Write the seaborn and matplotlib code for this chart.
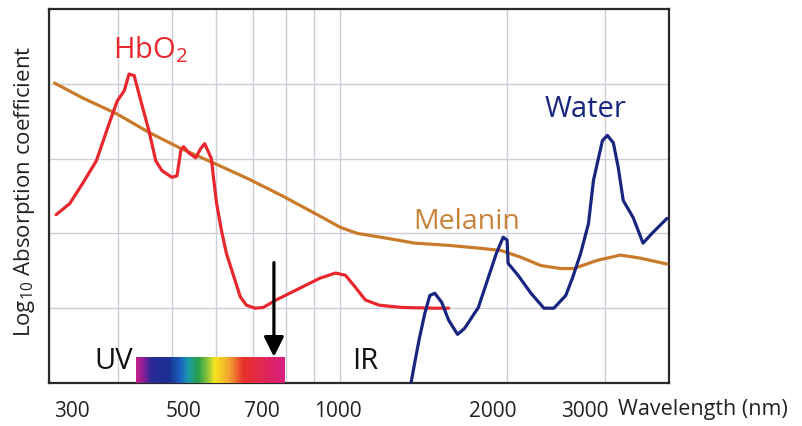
import numpy as np
import pandas as pd
import matplotlib
matplotlib.use("Agg")
import matplotlib.pyplot as plt
from matplotlib.colors import LinearSegmentedColormap
from matplotlib.transforms import ScaledTranslation
import seaborn as sns

# ---- data ----
hbo2_wl = [309, 327, 345, 365, 385, 398, 410, 418, 427, 439, 454, 467, 479, 499, 510,
           518, 524, 535, 551, 562, 572, 588, 593, 601, 613, 626, 663, 680, 705, 729,
           769, 834, 921, 984, 1025, 1068, 1113, 1179, 1296, 1484, 1572]
hbo2_val = [2.25, 2.40, 2.67, 2.97, 3.47, 3.77, 3.91, 4.13, 4.11, 3.77, 3.37, 2.97, 2.84, 2.75, 2.77,
            3.11, 3.16, 3.08, 3.01, 3.13, 3.20, 3.00, 2.75, 2.40, 2.04, 1.73, 1.15, 1.04, 1.00, 1.01,
            1.11, 1.24, 1.40, 1.47, 1.44, 1.28, 1.11, 1.04, 1.01, 1.00, 1.00]

melanin_wl = [307, 345, 397, 454, 520, 598, 685, 785, 902, 1004, 1077, 1184, 1367, 1572,
              1800, 1955, 2123, 2304, 2502, 2638, 2912, 3201, 3476, 3885]
melanin_val = [4.01, 3.81, 3.60, 3.35, 3.13, 2.93, 2.73, 2.51, 2.27, 2.08, 2.00, 1.95, 1.87, 1.84,
               1.80, 1.77, 1.68, 1.57, 1.53, 1.53, 1.64, 1.71, 1.67, 1.59]

water_wl = [1345, 1361, 1390, 1424, 1454, 1484, 1527, 1572, 1631, 1679, 1778, 1853, 1915, 1971,
            2003, 2011, 2096, 2211, 2333, 2431, 2554, 2628, 2716, 2806, 2865, 2973, 3035, 3111,
            3175, 3241, 3378, 3518, 3651, 3885]
water_val = [0.00, 0.21, 0.57, 0.93, 1.17, 1.20, 1.08, 0.84, 0.65, 0.73, 1.01, 1.41, 1.73, 1.95,
             1.91, 1.60, 1.44, 1.20, 1.00, 1.00, 1.17, 1.41, 1.73, 2.13, 2.71, 3.24, 3.31, 3.21,
             2.88, 2.44, 2.21, 1.87, 2.00, 2.20]

tick_values = [300, 500, 700, 1000, 2000, 3000]
tick_labels = ["300", "500", "700", "1000", "2000", "3000"]
minor_grid = [400, 600, 800, 900]
visible_range = [430, 798]      # colour spectrum bar (nm)
arrow_wl = 762                  # arrow position (nm)

RED = "#e8282e"
ORANGE = "#c97b2b"
NAVY = "#1a2580"

sns.set_theme(style="white")
plt.rcParams["font.family"] = ["Open Sans", "DejaVu Sans"]
plt.rcParams["mathtext.fontset"] = "custom"
plt.rcParams["mathtext.rm"] = "Open Sans"
plt.rcParams["mathtext.it"] = "Open Sans"
plt.rcParams["mathtext.default"] = "regular"

fig = plt.figure(figsize=(8.03, 4.26), dpi=100)
ax = fig.add_axes([49 / 803, 43 / 426, 620 / 803, 374 / 426])

df_h = pd.DataFrame({"wl": hbo2_wl, "val": hbo2_val})
df_m = pd.DataFrame({"wl": melanin_wl, "val": melanin_val})
df_w = pd.DataFrame({"wl": water_wl, "val": water_val})

ax.set_xscale("log")
line_kw = dict(lw=2.3, solid_joinstyle="round", solid_capstyle="round")
sns.lineplot(data=df_m, x="wl", y="val", ax=ax, color=ORANGE, zorder=3, **line_kw)
sns.lineplot(data=df_h, x="wl", y="val", ax=ax, color=RED, zorder=4, **line_kw)
sns.lineplot(data=df_w, x="wl", y="val", ax=ax, color=NAVY, zorder=4, **line_kw)

ax.set_xlim(300, 3918)
ax.set_ylim(0, 5)

# grid
ax.set_xticks(tick_values)
ax.set_xticklabels(tick_labels)
ax.set_xticks(minor_grid, minor=True)
ax.xaxis.set_minor_formatter(matplotlib.ticker.NullFormatter())
ax.set_yticks([1, 2, 3, 4])
ax.set_yticklabels([])
ax.grid(True, which="both", color="#cdcdd8", lw=1.0, zorder=0)
ax.set_axisbelow(True)
ax.tick_params(axis="both", which="both", length=0)
ax.tick_params(axis="x", labelsize=15, pad=13, labelcolor="#222222")
ax.set_xlabel("")
ax.set_ylabel("")

# shift tick labels to mimic the illustration placement
offsets = [23, 11, 8, -2, -14, -20]
for lab, dx in zip(ax.get_xticklabels(), offsets):
    lab.set_transform(lab.get_transform() + ScaledTranslation(dx / 100, 0, fig.dpi_scale_trans))

for s in ax.spines.values():
    s.set_color("#2a2a2a")
    s.set_linewidth(1.6)

# spectrum bar
cmap = LinearSegmentedColormap.from_list("spec", [
    (0.00, "#c4208c"), (0.05, "#8a1e96"), (0.10, "#2a2a98"), (0.22, "#1a3090"),
    (0.30, "#1a62c0"), (0.35, "#1a9aa8"), (0.42, "#2aa048"), (0.48, "#8ec43a"),
    (0.53, "#f6e41e"), (0.63, "#f2a030"), (0.72, "#e8302a"), (0.84, "#e2284e"),
    (1.00, "#d61e80")])
xe = np.geomspace(visible_range[0], visible_range[1], 300)
ye = np.array([0, 0.35])
C = np.linspace(0, 1, len(xe) - 1)[None, :]
ax.pcolormesh(xe, ye, C, cmap=cmap, shading="flat", zorder=5)

# arrow
ax.annotate("", xy=(arrow_wl, 0.35), xytext=(arrow_wl, 1.61),
            arrowprops=dict(arrowstyle="-|>,head_length=0.6,head_width=0.3",
                            color="black", lw=2.3, mutation_scale=20,
                            shrinkA=0, shrinkB=0), zorder=6)

# labels
ax.text(0.103, 0.869, r"HbO$_2$", transform=ax.transAxes, color=RED, fontsize=21,
        ha="left", va="baseline")
ax.text(0.80, 0.711, "Water", transform=ax.transAxes, color=NAVY, fontsize=21,
        ha="left", va="baseline")
ax.text(0.587, 0.412, "Melanin", transform=ax.transAxes, color="#c9823a", fontsize=20.5,
        ha="left", va="baseline")
ax.text(0.073, 0.037, "UV", transform=ax.transAxes, color="#111111", fontsize=21,
        ha="left", va="baseline")
ax.text(0.489, 0.037, "IR", transform=ax.transAxes, color="#111111", fontsize=21,
        ha="left", va="baseline")

fig.text(618 / 803, 1 - 410 / 426, "Wavelength (nm)", fontsize=15.5, color="#222222",
         ha="left", va="center")
fig.text(25 / 803, 1 - 191 / 426, r"Log$_{10}$ Absorption coefficient", fontsize=16,
         color="#222222", rotation=90, ha="center", va="center")

fig.savefig("out.png", dpi=100, facecolor="white")
